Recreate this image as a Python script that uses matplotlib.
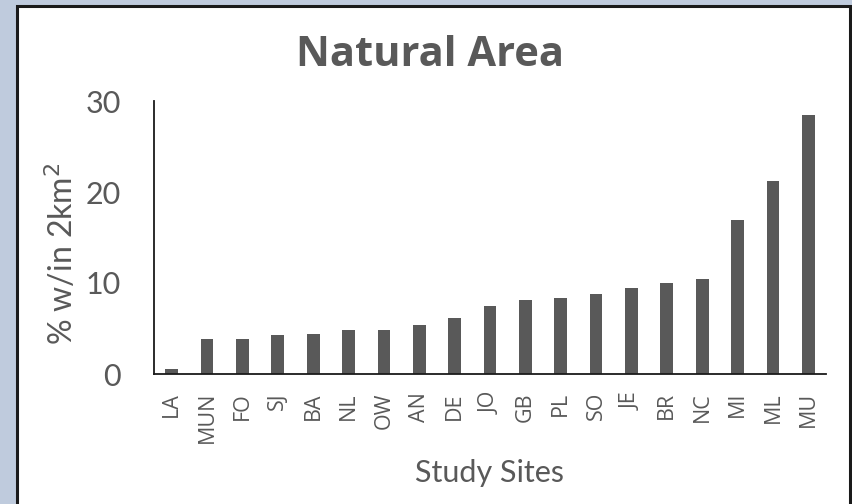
import matplotlib.pyplot as plt
from matplotlib.patches import Rectangle

sites = ['LA', 'MUN', 'FO', 'SJ', 'BA', 'NL', 'OW', 'AN', 'DE', 'JO',
         'GB', 'PL', 'SO', 'JE', 'BR', 'NC', 'MI', 'ML', 'MU']
natural_pct = [0.6, 3.8, 3.85, 4.3, 4.4, 4.8, 4.85, 5.35, 6.1, 7.5,
               8.1, 8.35, 8.8, 9.45, 10.0, 10.45, 16.9, 21.25, 28.5]

txt = '#595959'

fig = plt.figure(figsize=(8.53, 5.04), dpi=100)
fig.patch.set_facecolor('#bfcbdd')

# white chart area with dark frame
fig.patches.append(Rectangle((17/853, -0.05), (850-17)/853, 1.05 - 6/504,
                             transform=fig.transFigure, facecolor='white',
                             edgecolor='#1a1a1a', linewidth=2.2, zorder=-1))

ax = fig.add_axes([154/853, 1-374/504, (826-154)/853, (374-101)/504])
ax.set_facecolor('none')
x = range(len(sites))
ax.bar(x, natural_pct, width=0.36, color='#595959')

ax.set_xlim(-0.5, len(sites) - 0.5)
ax.set_ylim(0, 30)
ax.set_yticks([0, 10, 20, 30])
ax.set_xticks(list(x))
ax.set_xticklabels(sites, rotation=90, fontsize=15.5, color=txt,
                   family='Open Sans', va='top')
ax.tick_params(axis='both', length=0)
ax.tick_params(axis='x', pad=13)
ax.tick_params(axis='y', pad=24, labelsize=22, labelcolor=txt)
for t in ax.get_yticklabels():
    t.set_family('Lato')

for s in ['top', 'right']:
    ax.spines[s].set_visible(False)
for s in ['left', 'bottom']:
    ax.spines[s].set_color('#1a1a1a')
    ax.spines[s].set_linewidth(1.3)

fig.text(0.504, 1-56/504, 'Natural Area', ha='center', va='center',
         fontsize=30, fontweight='bold', color=txt, family='Open Sans')
fig.text(62/853, 1-254/504, '% w/in 2km$^2$', rotation=90, ha='center',
         va='center', fontsize=23, color=txt, family='Lato')
fig.text(490/853, 1-473/504, 'Study Sites', ha='center', va='center',
         fontsize=22, color=txt, family='Lato')

fig.savefig('out.png', dpi=100, facecolor=fig.get_facecolor())
